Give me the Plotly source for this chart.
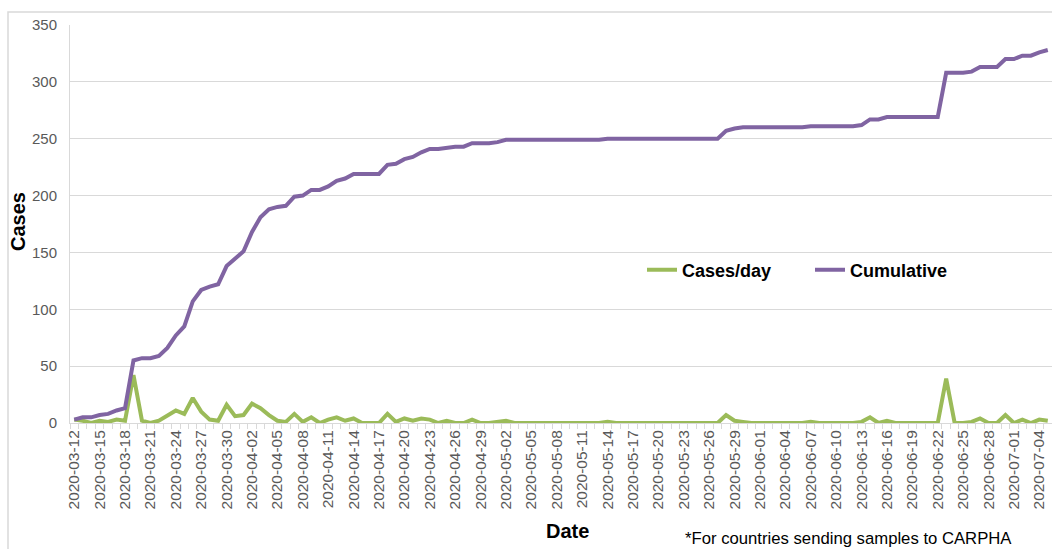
import pandas as pd
import plotly.graph_objects as go

# categories: one per day
dates = [d.strftime("%Y-%m-%d") for d in pd.date_range("2020-03-12", "2020-07-05", freq="D")]

cases_per_day = [
    3, 2, 0, 2, 1, 3, 2, 42, 2, 0, 2, 7, 11, 8, 22, 10, 3, 2, 16, 6,
    7, 17, 13, 7, 2, 1, 8, 1, 5, 0, 3, 5, 2, 4, 0, 0, 0, 8, 1, 4,
    2, 4, 3, 0, 2, 0, 0, 3, 0, 0, 1, 2,
    0, 0, 0, 0, 0, 0, 0, 0, 0, 0, 0,
    1,
    0, 0, 0, 0, 0, 0, 0, 0, 0, 0, 0, 0, 0,
    7, 2, 1,
    0, 0, 0, 0, 0, 0, 0,
    1,
    0, 0, 0, 0, 0,
    1, 5, 0, 2,
    0, 0, 0, 0, 0, 0,
    39, 0, 0, 1, 4, 0, 0, 7, 0, 3, 0, 3, 2,
]

cumulative = [
    3, 5, 5, 7, 8, 11, 13, 55, 57, 57, 59, 66, 77, 85, 107, 117, 120, 122, 138, 144,
    151, 168, 181, 188, 190, 191, 199, 200, 205, 205, 208, 213, 215, 219, 219, 219, 219, 227, 228, 232,
    234, 238, 241, 241, 242, 243, 243, 246, 246, 246, 247, 249,
    249, 249, 249, 249, 249, 249, 249, 249, 249, 249, 249,
    250, 250, 250, 250, 250, 250, 250, 250, 250, 250, 250, 250, 250, 250,
    257, 259,
    260, 260, 260, 260, 260, 260, 260, 260,
    261, 261, 261, 261, 261, 261,
    262, 267, 267, 269,
    269, 269, 269, 269, 269, 269,
    308, 308, 308, 309, 313, 313, 313, 320, 320, 323, 323, 326, 328,
]

tick_text = [d if i % 3 == 0 else "" for i, d in enumerate(dates)]

FONT = "Liberation Sans"
GRID = "#d9d9d9"
LABEL = "#595959"

fig = go.Figure()
fig.add_trace(go.Scatter(x=dates, y=cases_per_day, mode="lines", name="Cases/day",
                         line=dict(color="#9BBB59", width=4)))
fig.add_trace(go.Scatter(x=dates, y=cumulative, mode="lines", name="Cumulative",
                         line=dict(color="#8064A2", width=4)))

W, H = 1052, 549
L, R, T, B = 70, 0, 25, 126
pw, ph = W - L - R, H - T - B

def px_x(x):
    return (x - L) / pw

def px_y(y):
    return (H - B - y) / ph

fig.update_layout(
    width=W, height=H,
    margin=dict(l=L, r=R, t=T, b=B),
    paper_bgcolor="white", plot_bgcolor="white",
    font=dict(family=FONT, color=LABEL),
    showlegend=True,
    legend=dict(orientation="h", x=px_x(642), y=px_y(270), xanchor="left", yanchor="middle",
                font=dict(family=FONT, size=18, color="black", weight="bold"),
                bgcolor="rgba(0,0,0,0)", itemwidth=30, entrywidth=123),
    xaxis=dict(type="category", range=[-0.5, len(dates) - 0.5],
               tickmode="array", tickvals=dates, ticktext=tick_text,
               tickangle=-90, tickfont=dict(size=15.5, color=LABEL, family=FONT),
               ticks="outside", tickson="boundaries", ticklen=5, tickcolor=GRID,
               showline=True, linecolor=GRID, linewidth=1, showgrid=False, zeroline=False),
    yaxis=dict(range=[0, 350], dtick=50, tickfont=dict(size=15, color=LABEL, family=FONT),
               showgrid=True, gridcolor=GRID, gridwidth=1,
               showline=True, linecolor=GRID, linewidth=1,
               ticks="outside", ticklen=9, tickcolor="rgba(0,0,0,0)", zeroline=False),
    annotations=[
        dict(text="<b>Cases</b>", xref="paper", yref="paper", x=px_x(18), y=px_y(222),
             xanchor="center", yanchor="middle", textangle=-90, showarrow=False,
             font=dict(size=20, color="black", family=FONT)),
        dict(text="<b>Date</b>", xref="paper", yref="paper", x=px_x(567), y=px_y(531),
             xanchor="center", yanchor="middle", showarrow=False,
             font=dict(size=20, color="black", family=FONT)),
        dict(text="*For countries sending samples to CARPHA", xref="paper", yref="paper",
             x=px_x(683), y=px_y(538), xanchor="left", yanchor="middle", showarrow=False,
             font=dict(size=16.7, color="black", family=FONT)),
    ],
    shapes=[
        dict(type="rect", xref="paper", yref="paper", x0=px_x(8), x1=px_x(1070),
             y0=px_y(570), y1=px_y(12), line=dict(color=GRID, width=1.5), layer="below"),
    ],
)

fig.write_html("out.html", config={"displayModeBar": False},
               post_script="document.body.style.margin='0';document.body.style.overflow='hidden';")
